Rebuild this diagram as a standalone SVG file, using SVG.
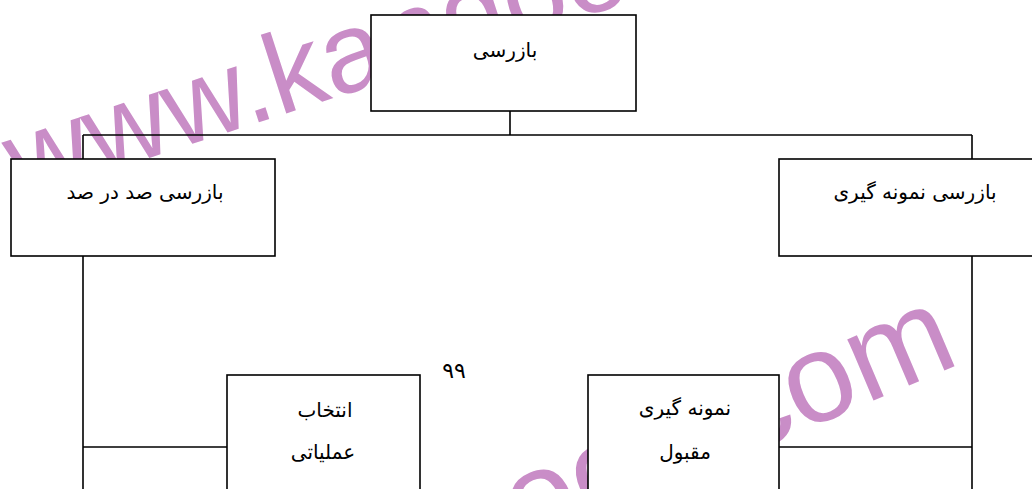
<svg xmlns="http://www.w3.org/2000/svg" width="1032" height="489" viewBox="0 0 1032 489">
<style>
.wm{font-family:"Liberation Sans",Arial,sans-serif;font-size:114px;fill:#c98dc7}
.box{fill:#fff;stroke:#000;stroke-width:1.6}
.ln{fill:none;stroke:#000;stroke-width:1.6}
.t{font-family:"DejaVu Sans","Noto Sans",sans-serif;font-size:20px;fill:#000;text-anchor:middle}
</style>
<rect width="1032" height="489" fill="#fff"/>
<g id="watermark">
<text class="wm" transform="translate(20,200) rotate(-18)">www.kandoocn.com</text>
<text class="wm" text-anchor="end" style="font-size:126px" transform="translate(962,363) rotate(-23)">www.kandoocn.com</text>
</g>
<g id="connectors">
<path class="ln" d="M510,111 V135 M83,135 H972 M83,135 V159 M972,135 V159 M83,256 V489 M83,447 H227 M972,256 V489 M779,447 H972"/>
</g>
<g id="n-inspection">
<rect class="box" x="371" y="15" width="265" height="96"/>
<text class="t" x="505" y="57">بازرسی</text>
</g>
<g id="n-full">
<rect class="box" x="11" y="159" width="264" height="97"/>
<text class="t" x="145" y="199">بازرسی صد در صد</text>
</g>
<g id="n-sampling">
<rect class="box" x="779" y="159" width="272" height="97"/>
<text class="t" x="915" y="199">بازرسی نمونه گیری</text>
</g>
<g id="n-operational">
<rect class="box" x="227" y="375" width="193" height="130"/>
<text class="t" x="325" y="417">انتخاب</text>
<text class="t" x="323" y="459">عملیاتی</text>
</g>
<g id="n-acceptance">
<rect class="box" x="588" y="375" width="191" height="130"/>
<text class="t" x="685" y="415">نمونه گیری</text>
<text class="t" x="685" y="459">مقبول</text>
</g>
<text class="t" x="454" y="378" style="font-size:22px">۹۹</text>
</svg>
